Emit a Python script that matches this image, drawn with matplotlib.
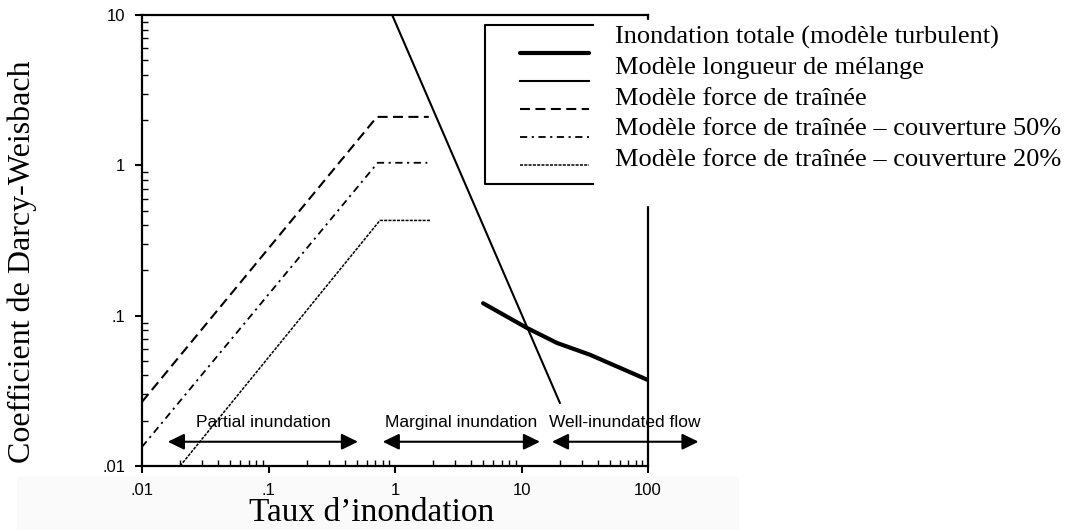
import numpy as np
import matplotlib
matplotlib.use("Agg")
import matplotlib.pyplot as plt
from matplotlib.lines import Line2D
from matplotlib.patches import Rectangle
from matplotlib.ticker import NullFormatter

# curves (log-log)
x_turbulent = [4.97, 11.0, 19.1, 34.7, 100]
y_turbulent = [0.121, 0.083, 0.0658, 0.055, 0.0373]

x_mixing = [0.95, 20.1]
y_mixing = [10, 0.0263]

x_drag = [0.01, 0.72, 1.85]
y_drag = [0.0267, 2.1, 2.1]

x_drag50 = [0.01, 0.73, 1.8]
y_drag50 = [0.0134, 1.04, 1.04]

x_drag20 = [0.02, 0.76, 1.9]
y_drag20 = [0.01, 0.43, 0.43]

legend_labels = [
    "Inondation totale (modèle turbulent)",
    "Modèle longueur de mélange",
    "Modèle force de traînée",
    "Modèle force de traînée – couverture 50%",
    "Modèle force de traînée – couverture 20%",
]

regime_names = ["Partial inundation", "Marginal inundation", "Well-inundated flow"]
regime_start = [0.016, 0.80, 17.4]
regime_end = [0.51, 14.0, 251]

x_ticks = [0.01, 0.1, 1, 10, 100]
x_ticklabels = [".01", ".1", "1", "10", "100"]
y_ticks = [0.01, 0.1, 1, 10]
y_ticklabels = [".01", ".1", "1", "10"]

W, H = 1074, 530


def fx(px):
    return px / W


def fy(py):
    return 1 - py / H


fig = plt.figure(figsize=(W / 100, H / 100), dpi=100)
ax = fig.add_axes([fx(142), fy(466), (648 - 142) / W, (466 - 15) / H])
ax.set_xscale("log")
ax.set_yscale("log")
ax.set_xlim(0.01, 100)
ax.set_ylim(0.01, 10)

l1, = ax.plot(x_turbulent, y_turbulent, color="k", lw=3.0, solid_capstyle="round")
l2, = ax.plot(x_mixing, y_mixing, color="k", lw=1.5)
l3, = ax.plot(x_drag, y_drag, color="k", lw=1.5, linestyle=(0, (4.8, 2.6)))
l4, = ax.plot(x_drag50, y_drag50, color="k", lw=1.3, linestyle=(0, (4, 2.5, 1.2, 2.5)))
l5, = ax.plot(x_drag20, y_drag20, color="k", lw=1.1, linestyle=(0, (2, 0.8)))

# axes look
for sp in ax.spines.values():
    sp.set_linewidth(1.6)
ax.set_xticks(x_ticks)
ax.set_xticklabels(x_ticklabels)
ax.set_yticks(y_ticks)
ax.set_yticklabels(y_ticklabels)
ax.xaxis.set_minor_formatter(NullFormatter())
ax.yaxis.set_minor_formatter(NullFormatter())
ax.tick_params(which="major", direction="out", length=5, width=1.5, pad=7,
               labelsize=12)
ax.tick_params(which="minor", direction="in", length=4, width=1.0)
for lab in ax.get_xticklabels() + ax.get_yticklabels():
    lab.set_family("Liberation Sans")

ax.set_xlabel("Taux d’inondation", family="Liberation Serif", fontsize=24, va="center")
ax.xaxis.set_label_coords((372 - 142) / 506, (466 - 513) / 451)
ax.set_ylabel("Coefficient de Darcy-Weisbach", family="Liberation Serif", fontsize=23,
              va="center")
ax.yaxis.set_label_coords((22 - 142) / 506, (466 - 262) / 451)

# flow regimes
for name, x0, x1 in zip(regime_names, regime_start, regime_end):
    ax.annotate("", xy=(x0, 0.0145), xytext=(x1, 0.0145),
                arrowprops=dict(arrowstyle="<|-|>,head_length=0.45,head_width=0.22",
                                mutation_scale=22, lw=1.5, color="k",
                                shrinkA=0, shrinkB=0),
                annotation_clip=False)
    ax.text(np.sqrt(x0 * x1), 0.0196, name, ha="center", va="center",
            fontsize=12.5, family="Liberation Sans", clip_on=False)

# faint scan background under the axis
fig.add_artist(Rectangle((fx(17), 0), fx(738) - fx(17), fy(477), transform=fig.transFigure,
                         color="#fafafa", zorder=-1))

# pasted french legend covering part of the original one
fig.add_artist(Rectangle((fx(593), fy(205)), 1 - fx(593), fy(20) - fy(205),
                         transform=fig.transFigure, color="white", zorder=1))
fig.add_artist(Line2D([fx(593), fx(485), fx(485), fx(593)],
                      [fy(25), fy(25), fy(184), fy(184)],
                      transform=fig.transFigure, color="k", lw=1.5, zorder=2))
fig.legend([l1, l2, l3, l4, l5], [" "] * 5, loc="upper left",
           bbox_to_anchor=(fx(513), fy(40)), bbox_transform=fig.transFigure,
           frameon=False, borderpad=0, handlelength=5.0, handletextpad=0,
           labelspacing=1.0, fontsize=10)
for i, lab in enumerate(legend_labels):
    fig.text(fx(615), fy(37 + 30.8 * i), lab, ha="left", va="center",
             family="Liberation Serif", fontsize=19, zorder=3)

fig.savefig("out.png", dpi=100)
